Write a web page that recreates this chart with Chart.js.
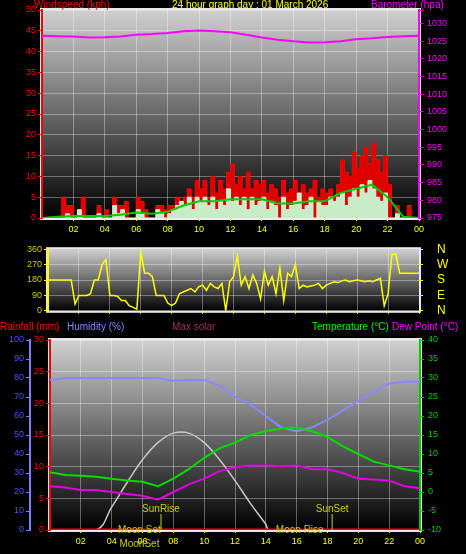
<!DOCTYPE html>
<html><head><meta charset="utf-8">
<script src="https://cdn.jsdelivr.net/npm/chart.js@4.4.0/dist/chart.umd.min.js"></script>
<style>
body{margin:0;background:#000;width:466px;height:554px;overflow:hidden;position:relative;font-family:"Liberation Sans",sans-serif}
.box{position:absolute;left:0;width:466px}
.t{position:absolute;font-size:10px;white-space:nowrap;line-height:11px}
</style></head><body>
<div class="box" style="top:0;height:240px"><canvas id="c1"></canvas></div>
<div class="box" style="top:228px;height:104px"><canvas id="c2"></canvas></div>
<div class="box" style="top:320px;height:234px"><canvas id="c3"></canvas></div>
<div class="t" style="left:34px;top:-1px;color:#f00">Windspeed (kph)</div>
<div class="t" style="left:172px;top:-1px;color:#ff0">24 hour graph day : 01 March 2026</div>
<div class="t" style="left:371px;top:-1px;color:#f0f">Barometer (hpa)</div>
<div class="t" style="left:0;top:321px;color:#f00">Rainfall (mm)</div>
<div class="t" style="left:67px;top:321px;color:#88f">Humidity (%)</div>
<div class="t" style="left:172px;top:321px;color:#a03060">Max solar</div>
<div class="t" style="left:312px;top:321px;color:#0f0">Temperature (°C)</div>
<div class="t" style="left:392px;top:321px;color:#f0f">Dew Point (°C)</div>
<script>
// 15-minute samples, hour 0..24
const gust = [0,0,0,0, 0,5,3,3, 0,0,5,0, 0,0,3,0, 2,0,5,3, 3,4,0,0, 5,4,2,0, 0,3,3,2,
  3,3,5,4, 5,7,5,9, 7,9,5,10, 6,9,7,11, 13,8,10,7, 11,7,9,8, 9,6,8,7, 5,9,6,7,
  9,6,8,6, 7,9,5,7, 6,7,5,8, 14,11,10,16, 12,15,17,13, 18,14,11,15, 8,0,3,0, 0,3,0,0, 0];
const speed = [0,0,0,0, 0,0,1,0, 0,2,0,0, 0,0,1,0, 0,0,3,1, 2,0,0,0, 2,1,0,0, 0,2,1,0,
  1,2,3,4, 3,5,2,5, 4,5,3,5, 2,4,3,7, 4,5,3,5, 2,5,3,4, 5,2,4,3, 0,5,2,3,
  4,6,2,3, 5,0,4,3, 3,5,4,5, 6,3,5,7, 5,8,6,9, 7,5,4,6, 0,0,1,0, 0,0,0,0, 0];
const windDir = [180,180,180,180, 180,180,180,40, 90,90,90,100, 180,180,270,300,
  90,90,85,60, 60,30,20,10, 345,220,220,200, 90,90,90,45, 30,45,100,110,
  120,130,110,140, 150,120,160,140, 130,160,0,170, 200,320,150,200, 130,210,160,70,
  230,150,200,100, 250,60,220,200, 270,130,150,140, 145,150,160,130, 150,160,170,165,
  175,180,170,175, 180,175,170,175, 170,180,190,30, 100,330,330,220, 220,220,220,220, 220];
// hourly samples, hour 0..24
const avgWind = [0,0.3,0.5,0.5,0.5,0.8,1.3,1,1.5,3,4,4,4.5,4.5,4.5,3.5,3.5,4,4,6,7,8,5,0.3,0];
const baro = [1026.5,1026.4,1026.3,1026,1026.1,1026.3,1026.8,1027,1027.3,1027.8,1028,1027.8,1027.5,
  1026.8,1026,1025.4,1025,1024.6,1024.7,1025,1025.5,1025.8,1026.2,1026.4,1026.5];
const temp = [5.2,4.5,4.3,4,3.5,3,2.7,1.5,3.5,6,9,11.5,13,15,16,16.8,17,16,14.5,12,10,8,7,6,5.3];
const dew = [1.5,1.2,0.5,0.5,0,-0.5,-1,-2,0,2,3.5,5.5,6.5,7,7,6.8,7,6,6,5,3.5,3.3,3,1.5,1];
const humidity = [79,80,80,80,80,80,80,80,78.5,79,79,76,70,66,60,54,52,54,58,63,68,73,77,78,78];
const rain = [0,0,0,0,0,0,0,0,0,0,0,0,0,0,0,0,0,0,0,0,0,0,0,0,0];
const solarHours = [0,3,4,5,6,7,8,9,10,11,12,13,14,14.2,24];
const solarVals = [0,0,12,25,37,46,51,51,46,37,26,14,3,0,0];
const hourTicks = [2,4,6,8,10,12,14,16,18,20,22,24];
const events = [
  {label:'SunRise', hour:7.2, row:0}, {label:'SunSet', hour:18.3, row:0},
  {label:'Moon Set', hour:5.8, row:1}, {label:'Moon Rise', hour:16.2, row:1}
];

const pts = (arr, step) => arr.map((v, i) => ({x: i * step, y: v}));
const F = {family:'Liberation Sans', size:9};
const GRID = {color:'rgba(255,255,255,0.35)', borderDash:[1,2], tickLength:4};

const backdrop = {
  id:'backdrop',
  beforeDraw(chart){
    const {ctx, chartArea:a} = chart;
    const g = ctx.createLinearGradient(0, a.top, 0, a.bottom);
    g.addColorStop(0, '#d0d0d0'); g.addColorStop(1, '#000');
    ctx.save(); ctx.fillStyle = g;
    ctx.fillRect(a.left, a.top, a.right - a.left, a.bottom - a.top);
    ctx.strokeStyle = '#e8e8e8'; ctx.lineWidth = 2;
    ctx.strokeRect(a.left - 1, a.top - 1, a.right - a.left + 2, a.bottom - a.top + 2);
    ctx.restore();
  }
};

function xAxis(h){
  return {type:'linear', min:0, max:24,
    afterBuildTicks: s => { s.ticks = hourTicks.map(v => ({value:v})); },
    afterFit: s => { s.height = h; },
    ticks:{display:h > 0, color:'#ff0', font:F, callback: v => String(v % 24).padStart(2,'0'), maxRotation:0, autoSkip:false},
    grid:Object.assign({}, GRID, {tickLength:3, tickColor:'#ff0'}),
    border:{display:false}};
}
function yAxis(pos, min, max, step, color, width, opts){
  opts = opts || {};
  return {type:'linear', position:pos, min, max,
    afterFit: s => { s.width = width; },
    ticks:{color:opts.tickColor || color, font:opts.font || F, stepSize:step, padding:opts.padding || 2,
      autoSkip:false, callback:opts.callback},
    grid:opts.grid ? Object.assign({}, GRID, {tickColor:color}) : {drawOnChartArea:false, tickLength:4, tickColor:color},
    border:{display:opts.border !== false, color, width:2}};
}
const base = {responsive:true, maintainAspectRatio:false, animation:false,
  plugins:{legend:{display:false}, tooltip:{enabled:false}},
  elements:{point:{radius:0}, line:{tension:0}}};

new Chart(document.getElementById('c1'), {
  type:'line',
  data:{datasets:[
    {data:pts(baro,1), yAxisID:'yb', borderColor:'#f0f', borderWidth:2},
    {data:pts(avgWind,1), yAxisID:'y', borderColor:'#0c0', borderWidth:2},
    {data:pts(speed,0.25), yAxisID:'y', borderColor:'#d8f4d8', backgroundColor:'#c8ecc8', fill:'origin', stepped:true, borderWidth:1},
    {data:pts(gust,0.25), yAxisID:'y', borderColor:'#f00', backgroundColor:'#e00000', fill:'origin', stepped:true, borderWidth:1}
  ]},
  options:Object.assign({}, base, {layout:{padding:{top:10, bottom:4}},
    scales:{x:xAxis(18),
      y:yAxis('left',0,50,5,'#f00',42,{grid:true}),
      yb:yAxis('right',975,1033.8,5,'#f0f',47,{padding:4, callback:v => v % 5 === 0 ? v : ''})}}),
  plugins:[backdrop]
});

const compass = {0:'N',90:'E',180:'S',270:'W',360:'N'};
new Chart(document.getElementById('c2'), {
  type:'line',
  data:{datasets:[{data:pts(windDir,0.25), borderColor:'#ff0', borderWidth:1.5}]},
  options:Object.assign({}, base, {layout:{padding:{top:4, bottom:8}},
    scales:{x:xAxis(0),
      y:yAxis('left',0,360,90,'#ff0',48,{grid:true, tickColor:'#cc0'}),
      yd:yAxis('right',0,360,90,'#ff0',47,{border:false, padding:14,
        font:{family:'Liberation Sans', size:12}, callback: v => compass[v]})}}),
  plugins:[backdrop]
});

const marks = {
  id:'marks',
  afterDatasetsDraw(chart){
    const {ctx, scales} = chart;
    const y0 = scales.yr.getPixelForValue(0);
    ctx.save();
    ctx.font = '10px Liberation Sans'; ctx.fillStyle = '#cc0'; ctx.strokeStyle = '#cc0';
    ctx.textAlign = 'center';
    events.forEach(e => {
      const x = scales.x.getPixelForValue(e.hour);
      if (e.row === 0) {
        ctx.beginPath(); ctx.moveTo(x, y0 - 16); ctx.lineTo(x, y0); ctx.stroke();
        ctx.fillText(e.label, x, y0 - 18);
      } else {
        ctx.fillText(e.label, x, y0 + 3);
      }
    });
    ctx.fillText('MoonSet', scales.x.getPixelForValue(5.8), y0 + 17);
    ctx.restore();
  }
};
new Chart(document.getElementById('c3'), {
  type:'line',
  data:{datasets:[
    {data:pts(rain,1), yAxisID:'yr', borderColor:'#f00', borderWidth:3},
    {data:pts(dew,1), yAxisID:'yt', borderColor:'#e000e0', borderWidth:2},
    {data:pts(temp,1), yAxisID:'yt', borderColor:'#0d0', borderWidth:2},
    {data:pts(humidity,1), yAxisID:'yh', borderColor:'#8888ff', borderWidth:2},
    {data:solarHours.map((h,i) => ({x:h, y:solarVals[i]})), yAxisID:'yh', borderColor:'#c8c8c8', borderWidth:1.5, tension:0.4}
  ]},
  options:Object.assign({}, base, {layout:{padding:{top:20, bottom:2}},
    scales:{x:xAxis(22),
      yr:yAxis('left',0,30,5,'#f00',20,{grid:true}),
      yh:yAxis('left',0,100,10,'#8080ff',30,{tickColor:'#5050ff'}),
      yt:yAxis('right',-10,40,5,'#0c0',46,{padding:4})}}),
  plugins:[backdrop, marks]
});
</script>
</body></html>
